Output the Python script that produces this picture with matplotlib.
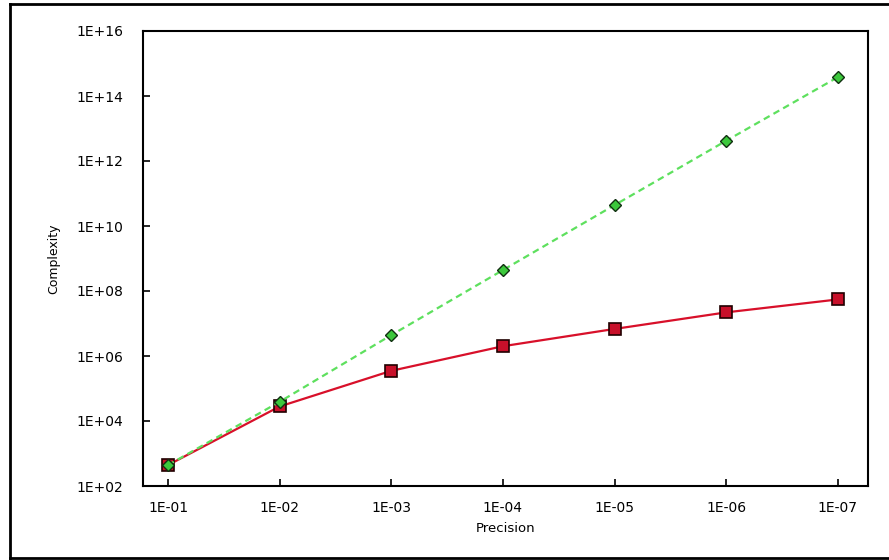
import matplotlib
matplotlib.use("Agg")
import matplotlib.pyplot as plt
from matplotlib.lines import Line2D

categories = ["1E-01", "1E-02", "1E-03", "1E-04", "1E-05", "1E-06", "1E-07"]
red_series = [440, 2.8e4, 3.5e5, 2.0e6, 6.8e6, 2.2e7, 5.5e7]
green_series = [440, 3.9e4, 4.4e6, 4.4e8, 4.4e10, 4.2e12, 3.8e14]
ytick_vals = [1e2, 1e4, 1e6, 1e8, 1e10, 1e12, 1e14, 1e16]
ytick_labels = ["1E+02", "1E+04", "1E+06", "1E+08", "1E+10", "1E+12", "1E+14", "1E+16"]

W, H = 889, 560
fig = plt.figure(figsize=(W / 100, H / 100), dpi=100)
ax = fig.add_axes([143 / W, 1 - 486 / H, (868 - 143) / W, (486 - 31) / H])

x = list(range(len(categories)))
ax.plot(x, red_series, color="#d8102a", lw=1.6, marker="s", markersize=8,
        markerfacecolor="#c8102a", markeredgecolor="#200000", markeredgewidth=1.2, zorder=3)
ax.plot(x, green_series, color="#5ee05e", lw=1.6, ls=(0, (3, 2)), marker="D", markersize=6,
        markerfacecolor="#3cc83c", markeredgecolor="#103010", markeredgewidth=1.0, zorder=4)

ax.set_yscale("log")
ax.set_ylim(1e2, 1e16)
ax.set_xlim(-0.224, 6.27)
ax.set_yticks(ytick_vals)
ax.set_yticklabels(ytick_labels)
ax.minorticks_off()
ax.set_xticks(x)
ax.set_xticklabels(categories)
ax.tick_params(direction="in", length=5, width=1.2, labelsize=10, colors="black")
ax.tick_params(axis="y", pad=14)
ax.tick_params(axis="x", pad=11)
for s in ax.spines.values():
    s.set_linewidth(1.5)

ax.set_xlabel("Precision", fontsize=9.5, labelpad=5)
ax.set_ylabel("Complexity", fontsize=9, labelpad=12)

# outer frame
fig.add_artist(Line2D([10 / W, 10 / W], [1 - 4 / H, 1 - 558 / H], transform=fig.transFigure, color="black", lw=2))
fig.add_artist(Line2D([10 / W, 1.0], [1 - 4 / H, 1 - 4 / H], transform=fig.transFigure, color="black", lw=2))
fig.add_artist(Line2D([10 / W, 1.0], [1 - 558 / H, 1 - 558 / H], transform=fig.transFigure, color="black", lw=2))

fig.savefig("out.png", dpi=100)
